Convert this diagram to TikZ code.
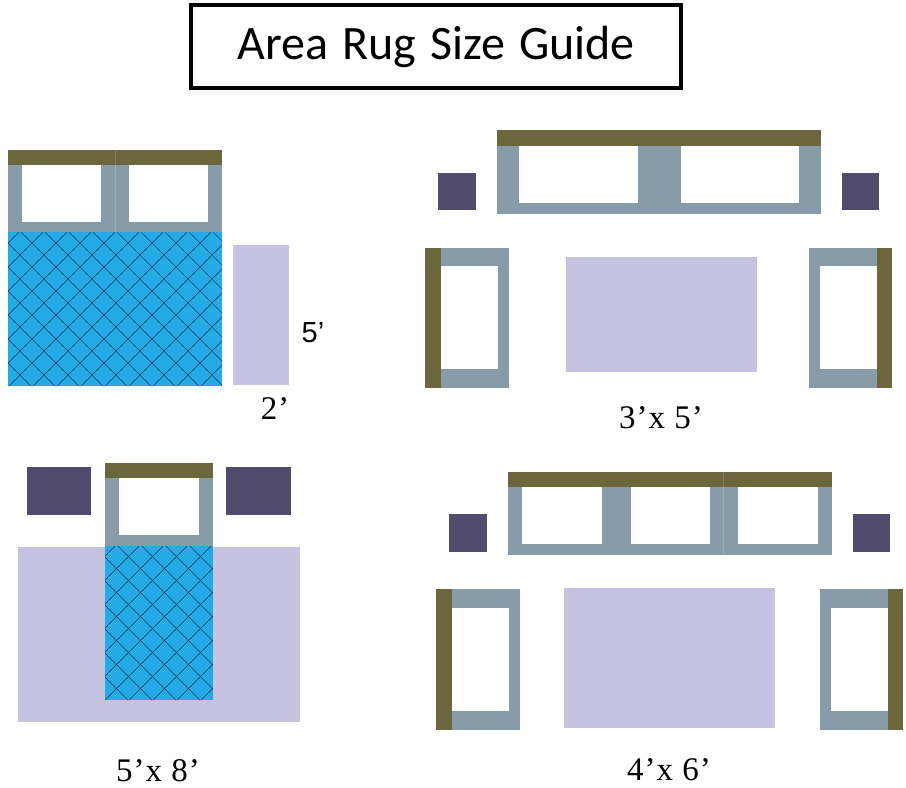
\documentclass[tikz,border=0pt]{standalone}
\usepackage{xcolor}
\usepackage{fontspec}
\setmainfont[LetterSpace=3]{Liberation Serif}
\newfontfamily\titlefont[WordSpace=1.3]{Carlito}
\newfontfamily\armfont{Liberation Sans}
\definecolor{olivebar}{HTML}{6B663C}
\definecolor{greybody}{HTML}{879CA8}
\definecolor{navypillow}{HTML}{514C6E}
\definecolor{lilacrug}{HTML}{C6C3E0}
\definecolor{bluequilt}{HTML}{24ABE6}
\definecolor{hatchink}{HTML}{0C4F78}

\begin{document}
\begin{tikzpicture}[x=1pt, y=-1pt]
    % Define styles
    \tikzstyle{back} = [fill=olivebar]
    \tikzstyle{body} = [fill=greybody]
    \tikzstyle{seat} = [fill=white]
    \tikzstyle{pillow} = [fill=navypillow]
    \tikzstyle{rug} = [fill=lilacrug]
    \tikzstyle{quilt} = [fill=bluequilt]
    \tikzstyle{hatchline} = [draw=hatchink, line width=0.7pt]
    \tikzstyle{seam} = [draw=white, opacity=0.15, line width=0.8pt]
    \tikzstyle{sizelabel} = [inner sep=0pt, font=\fontsize{33}{33}\selectfont]

    \useasboundingbox (0,0) rectangle (906,788);

    % Title
    \node [draw, line width=4pt, minimum width=490pt, minimum height=83pt, inner sep=0pt,
        text height=35pt, text depth=10pt, font=\titlefont\fontsize{48}{48}\selectfont]
        (title) at (436,46.5) {Area Rug Size Guide};

    % Top left: bed and 2 x 5 rug
    \fill [body] (8,165) rectangle (222,232);
    \fill [seat] (22,165) rectangle (101,222);
    \fill [seat] (129,165) rectangle (208,222);
    \fill [back] (8,150) rectangle (222,165);
    \fill [quilt] (8,232) rectangle (222,386);
    \begin{scope}
        \clip (8,232) rectangle (222,386);
        \foreach \c in {227,251,...,611}
            \draw [hatchline] (\c-232,232) -- (\c-386,386);
        \foreach \d in {-379,-355,...,-19}
            \draw [hatchline] (\d+232,232) -- (\d+386,386);
    \end{scope}
    \draw [seam] (115,150) -- (115,232);
    \fill [rug] (233,245) rectangle (289,385);
    \node [inner sep=0pt, font=\armfont\fontsize{29}{29}\selectfont] (labelfive) at (313,333) {5’};
    \node [sizelabel] (labeltwo) at (275,409) {2’};

    % Top right: sofa, two chairs and 3 x 5 rug
    \fill [body] (497,146) rectangle (821,214);
    \fill [seat] (519,146) rectangle (638,203);
    \fill [seat] (681,146) rectangle (799,203);
    \fill [back] (497,130) rectangle (821,146);
    \fill [pillow] (438,173) rectangle (476,210);
    \fill [pillow] (842,173) rectangle (879,210);
    \fill [body] (441,248) rectangle (509,388);
    \fill [seat] (441,266) rectangle (498,369);
    \fill [back] (425,248) rectangle (441,388);
    \fill [body] (809,248) rectangle (877,388);
    \fill [seat] (820,266) rectangle (877,369);
    \fill [back] (877,248) rectangle (892,388);
    \fill [rug] (566,257) rectangle (757,372);
    \node [sizelabel] (labelthree) at (661,418) {3’x 5’};

    % Bottom left: single bed on 5 x 8 rug
    \fill [rug] (18,547) rectangle (300,722);
    \fill [pillow] (27,467) rectangle (91,515);
    \fill [pillow] (226,467) rectangle (291,515);
    \fill [body] (105,478) rectangle (213,546);
    \fill [seat] (119,478) rectangle (199,535);
    \fill [back] (105,463) rectangle (213,478);
    \fill [quilt] (105,546) rectangle (213,700);
    \begin{scope}
        \clip (105,546) rectangle (213,700);
        \foreach \c in {637,661,...,925}
            \draw [hatchline] (\c-546,546) -- (\c-700,700);
        \foreach \d in {-596,-572,...,-332}
            \draw [hatchline] (\d+546,546) -- (\d+700,700);
    \end{scope}
    \node [sizelabel] (labelfour) at (158,771) {5’x 8’};

    % Bottom right: long sofa, two chairs and 4 x 6 rug
    \fill [body] (508,487) rectangle (832,555);
    \fill [seat] (522,487) rectangle (602,544);
    \fill [seat] (631,487) rectangle (710,544);
    \fill [seat] (738,487) rectangle (818,544);
    \fill [back] (508,472) rectangle (832,487);
    \draw [seam] (723,472) -- (723,555);
    \fill [pillow] (449,514) rectangle (487,552);
    \fill [pillow] (853,514) rectangle (890,552);
    \fill [body] (452,589) rectangle (520,730);
    \fill [seat] (452,608) rectangle (509,711);
    \fill [back] (436,589) rectangle (452,730);
    \fill [body] (820,589) rectangle (888,730);
    \fill [seat] (831,608) rectangle (888,711);
    \fill [back] (888,589) rectangle (903,730);
    \fill [rug] (564,588) rectangle (775,728);
    \node [sizelabel] (labelsix) at (669,770) {4’x 6’};
\end{tikzpicture}
\end{document}
